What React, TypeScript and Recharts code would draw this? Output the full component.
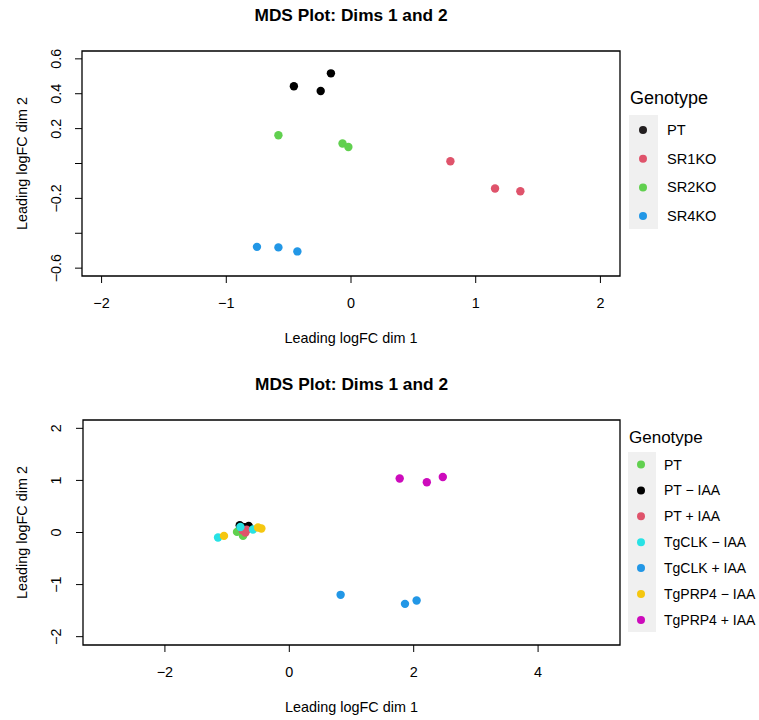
import { ReferenceArea, Scatter, ScatterChart, XAxis, YAxis } from 'recharts';

const FONT = '"Liberation Sans", Arial, Helvetica, sans-serif';

// top panel: SR knockouts
const topNames = ['PT', 'SR1KO', 'SR2KO', 'SR4KO'];
const topColors = ['#000000', '#DF536B', '#61D04F', '#2297E6'];
const topLegendColors = ['#231f20', '#DF536B', '#61D04F', '#2297E6'];
const topDim1 = [
  [-0.458, -0.243, -0.161],
  [0.797, 1.155, 1.358],
  [-0.582, -0.068, -0.021],
  [-0.754, -0.582, -0.43],
];
const topDim2 = [
  [0.443, 0.416, 0.517],
  [0.013, -0.143, -0.159],
  [0.162, 0.115, 0.095],
  [-0.478, -0.481, -0.504],
];
const topXTicks = [-2, -1, 0, 1, 2];
const topYTicks = [-0.6, -0.4, -0.2, 0, 0.2, 0.4, 0.6];
const topYLabels = ['−0.6', '', '−0.2', '', '0.2', '0.4', '0.6'];

// bottom panel: IAA treatments
const botNames = ['PT', 'PT − IAA', 'PT + IAA', 'TgCLK − IAA', 'TgCLK + IAA', 'TgPRP4 − IAA', 'TgPRP4 + IAA'];
const botColors = ['#61D04F', '#000000', '#DF536B', '#28E2E5', '#2297E6', '#F5C710', '#CD0BBC'];
const botDim1 = [
  [-0.841, -0.744, -0.805],
  [-0.797, -0.653, -0.717],
  [-0.706, -0.685, -0.749],
  [-1.146, -0.786, -0.584],
  [0.825, 1.86, 2.047],
  [-1.05, -0.503, -0.449],
  [1.775, 2.211, 2.468],
];
const botDim2 = [
  [0.012, -0.065, 0.044],
  [0.14, 0.127, 0.1],
  [0.0, 0.054, 0.044],
  [-0.096, 0.107, 0.058],
  [-1.197, -1.37, -1.305],
  [-0.065, 0.096, 0.077],
  [1.036, 0.965, 1.067],
];
const botXTicks = [-2, 0, 2, 4];
const botYTicks = [-2, -1, 0, 1, 2];
const botYLabels = ['−2', '−1', '0', '1', '2'];

const minus = (v: number) => String(v).replace('-', '−');

function YTick(props: any) {
  const { x, y, payload, ticks, labels } = props;
  const label = labels[ticks.indexOf(payload.value)];
  return (
    <text
      x={x}
      y={y}
      transform={`rotate(-90, ${x}, ${y})`}
      textAnchor="middle"
      dominantBaseline="central"
      fontSize={14.4}
      fontFamily={FONT}
      fill="#000"
    >
      {label}
    </text>
  );
}

type LegendPos = {
  x: number;
  boxW: number;
  dotDx: number;
  textDx: number;
  titleY: number;
  titleSize: number;
  boxTop: number;
  boxBottom: number;
  firstY: number;
  step: number;
  textSize: number;
};

type PanelProps = {
  names: string[];
  colors: string[];
  legendColors: string[];
  dim1: number[][];
  dim2: number[][];
  xDomain: [number, number];
  yDomain: [number, number];
  xTicks: number[];
  yTicks: number[];
  yLabels: string[];
  plotTop: number;
  plotLeft: number;
  plotRight: number;
  plotBottom: number;
  titleTop: number;
  legend: LegendPos;
};

function MdsPanel(p: PanelProps) {
  const W = 759;
  const H = 360;
  const xAxisH = H - p.plotBottom;
  const lg = p.legend;
  return (
    <div style={{ position: 'relative', width: W, height: H }}>
      <div
        style={{
          position: 'absolute',
          left: p.plotLeft,
          width: p.plotRight - p.plotLeft,
          top: p.titleTop,
          textAlign: 'center',
          fontFamily: FONT,
          fontWeight: 'bold',
          fontSize: 17.3,
          lineHeight: '20px',
        }}
      >
        MDS Plot: Dims 1 and 2
      </div>
      <ScatterChart
        width={W}
        height={H}
        margin={{ top: p.plotTop, right: W - p.plotRight, bottom: 0, left: 0 }}
        style={{ position: 'absolute', left: 0, top: 0 }}
      >
        <XAxis
          type="number"
          dataKey="x"
          domain={p.xDomain}
          ticks={p.xTicks}
          interval={0}
          allowDataOverflow
          height={xAxisH}
          axisLine={false}
          tickSize={7}
          tickMargin={15}
          tickLine={{ stroke: '#000' }}
          tickFormatter={minus}
          tick={{ fill: '#000', fontSize: 14.4, fontFamily: FONT }}
          label={{
            value: 'Leading logFC dim 1',
            position: 'insideBottom',
            offset: xAxisH - 67,
            fill: '#000',
            fontSize: 14.4,
            fontFamily: FONT,
          }}
        />
        <YAxis
          type="number"
          dataKey="y"
          domain={p.yDomain}
          ticks={p.yTicks}
          interval={0}
          allowDataOverflow
          width={p.plotLeft}
          axisLine={false}
          tickSize={7}
          tickMargin={p.plotLeft - 7 - 56}
          tickLine={{ stroke: '#000' }}
          tick={<YTick ticks={p.yTicks} labels={p.yLabels} />}
          label={{
            value: 'Leading logFC dim 2',
            angle: -90,
            position: 'insideLeft',
            offset: 22,
            fill: '#000',
            fontSize: 14.4,
            fontFamily: FONT,
            style: { textAnchor: 'middle' },
          }}
        />
        <ReferenceArea
          x1={p.xDomain[0]}
          x2={p.xDomain[1]}
          y1={p.yDomain[0]}
          y2={p.yDomain[1]}
          fill="none"
          fillOpacity={0}
          stroke="#000"
          strokeWidth={1.3}
          strokeOpacity={1}
        />
        {p.names.map((name, i) => (
          <Scatter
            key={name}
            name={name}
            data={p.dim1[i].map((v, j) => ({ x: v, y: p.dim2[i][j] }))}
            isAnimationActive={false}
            shape={(s: any) => <circle cx={s.cx} cy={s.cy} r={4.2} fill={p.colors[i]} />}
          />
        ))}
      </ScatterChart>
      <svg width={W - lg.x} height={H} style={{ position: 'absolute', left: lg.x, top: 0 }}>
        <rect x={0} y={lg.boxTop} width={lg.boxW} height={lg.boxBottom - lg.boxTop} fill="#f0f0f0" />
        <text x={1} y={lg.titleY} dominantBaseline="central" fontFamily={FONT} fontSize={lg.titleSize} fill="#000">
          Genotype
        </text>
        {p.names.map((name, i) => (
          <g key={name}>
            <circle cx={lg.dotDx} cy={lg.firstY + i * lg.step} r={4} fill={p.legendColors[i]} />
            <text
              x={lg.textDx}
              y={lg.firstY + i * lg.step}
              dominantBaseline="central"
              fontFamily={FONT}
              fontSize={lg.textSize}
              fill="#000"
            >
              {name}
            </text>
          </g>
        ))}
      </svg>
    </div>
  );
}

export default function App() {
  return (
    <div style={{ position: 'absolute', left: 0, top: 0, width: 759, height: 720, background: '#fff' }}>
      <MdsPanel
        names={topNames}
        colors={topColors}
        legendColors={topLegendColors}
        dim1={topDim1}
        dim2={topDim2}
        xDomain={[-2.157, 2.157]}
        yDomain={[-0.645, 0.645]}
        xTicks={topXTicks}
        yTicks={topYTicks}
        yLabels={topYLabels}
        plotTop={51}
        plotLeft={82}
        plotRight={620}
        plotBottom={276}
        titleTop={5}
        legend={{ x: 629, boxW: 29, dotDx: 14, textDx: 38, titleY: 98, titleSize: 18, boxTop: 115, boxBottom: 229, firstY: 130, step: 28.7, textSize: 14.6 }}
      />
      <MdsPanel
        names={botNames}
        colors={botColors}
        legendColors={botColors}
        dim1={botDim1}
        dim2={botDim2}
        xDomain={[-3.317, 5.317]}
        yDomain={[-2.16, 2.16]}
        xTicks={botXTicks}
        yTicks={botYTicks}
        yLabels={botYLabels}
        plotTop={60}
        plotLeft={83}
        plotRight={620}
        plotBottom={285}
        titleTop={14}
        legend={{ x: 628, boxW: 28, dotDx: 13, textDx: 36, titleY: 77, titleSize: 17, boxTop: 92, boxBottom: 272, firstY: 104.5, step: 25.9, textSize: 14 }}
      />
    </div>
  );
}
